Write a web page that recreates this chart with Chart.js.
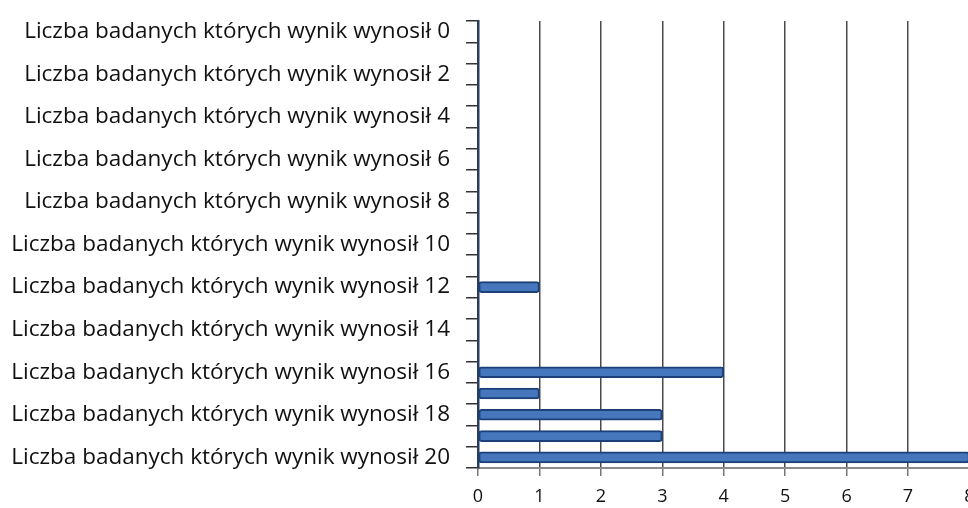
<!DOCTYPE html>
<html lang="pl">
<head>
<meta charset="utf-8">
<title>Liczba badanych według wyniku</title>
<script src="https://cdn.jsdelivr.net/npm/chart.js@4/dist/chart.umd.min.js"></script>
<style>
  html, body { margin: 0; padding: 0; background: #fff; overflow: hidden; }
  #wrap { position: relative; width: 1046px; height: 508px; }
</style>
</head>
<body>
<div id="wrap"><canvas id="chart" width="1046" height="508"></canvas></div>
<script>
// Wynik testu (0–20) i liczba badanych, którzy go uzyskali
const scores = [0, 1, 2, 3, 4, 5, 6, 7, 8, 9, 10, 11, 12, 13, 14, 15, 16, 17, 18, 19, 20];
const counts = [0, 0, 0, 0, 0, 0, 0, 0, 0, 0, 0, 0, 1, 0, 0, 0, 4, 1, 3, 3, 8];
const labelPrefix = 'Liczba badanych których wynik wynosił ';
const categories = scores.map(s => labelPrefix + s);
const xTicks = [0, 1, 2, 3, 4, 5, 6, 7, 8, 9];

const fontFamily = '"Open Sans", Lato, sans-serif';

new Chart(document.getElementById('chart'), {
  type: 'bar',
  data: {
    labels: categories,
    datasets: [{
      data: counts,
      backgroundColor: '#4677bd',
      borderColor: '#1c4179',
      borderWidth: 2,
      borderRadius: 3,
      borderSkipped: false,
      barThickness: 11
    }]
  },
  options: {
    indexAxis: 'y',
    responsive: false,
    animation: false,
    layout: { padding: { top: 21, left: 8, right: 14, bottom: 0 } },
    plugins: { legend: { display: false }, tooltip: { enabled: false } },
    scales: {
      x: {
        min: xTicks[0],
        max: xTicks[xTicks.length - 1],
        afterBuildTicks: scale => { scale.ticks = xTicks.map(v => ({ value: v })); },
        afterFit: scale => { scale.height = 40; },
        grid: { color: '#4a4a4a', lineWidth: 1.5, tickLength: 8, tickColor: '#777' },
        border: { color: '#8a8a8a', width: 2 },
        ticks: { color: '#111', padding: 10, font: { family: fontFamily, size: 18 } }
      },
      y: {
        afterFit: scale => {
          scale.width = 470;
          scale.paddingTop = 0;
          scale.paddingBottom = 0;
        },
        grid: { drawOnChartArea: false, tickLength: 12, tickColor: '#333', lineWidth: 1.5 },
        border: { color: '#2b3d5c', width: 2.5 },
        ticks: {
          autoSkip: false,
          padding: 16,
          color: '#111',
          font: { family: fontFamily, size: 22.5 },
          callback: (v, i) => (scores[i] % 2 === 0 ? categories[i] : '')
        }
      }
    }
  }
});
</script>
</body>
</html>
